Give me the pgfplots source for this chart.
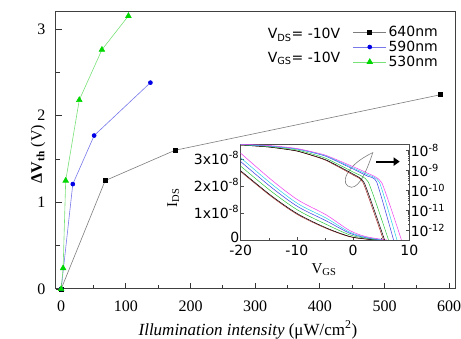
\documentclass[border=0pt]{standalone}
\usepackage{fontspec}
\setmainfont{Liberation Serif}
\setsansfont{DejaVu Sans}
\usepackage{pgfplots}
\pgfplotsset{compat=1.18}
\usetikzlibrary{arrows.meta,calc}

\definecolor{l640}{RGB}{125,125,125}
\definecolor{l590}{RGB}{120,120,235}
\definecolor{m590}{RGB}{0,0,230}
\definecolor{l530}{RGB}{120,225,120}
\definecolor{m530}{RGB}{0,215,0}
\definecolor{cbrown}{RGB}{170,40,40}
\definecolor{cgreen}{RGB}{40,200,60}
\definecolor{cblue}{RGB}{60,60,230}
\definecolor{ccyan}{RGB}{40,210,230}
\definecolor{cpink}{RGB}{240,60,240}

\newcommand{\sfs}{\sffamily\fontsize{14}{16}\selectfont}

\begin{document}
\begin{tikzpicture}[font=\fontsize{16}{19}\selectfont]
\begin{axis}[name=main, scale only axis, width=399pt, height=277pt,
  xmin=-8, xmax=609, ymin=0, ymax=3.195,
  xtick={0,100,...,600}, minor xtick={50,150,...,550},
  ytick={0,1,2,3}, minor ytick={0.5,1.5,2.5},
  tick pos=left, tick align=inside,
  major tick length=6pt, minor tick length=4pt,
  /pgf/number format/assume math mode=true,
  xticklabel style={yshift=-8pt},
  yticklabel style={xshift=-7pt},
  axis line style={line width=1pt, black!75},
  every tick/.style={black!80, line width=0.8pt},
  xlabel={\textit{Illumination intensity} (μW/cm\textsuperscript{2})},
  ylabel={{\bfseries ΔV\textsubscript{th}} (V)},
  every axis x label/.style={at={(axis description cs:0.481,-0.148)}, anchor=center, font=\fontsize{17}{20}\selectfont},
  every axis y label/.style={at={(axis description cs:-0.045,0.487)}, anchor=center, rotate=90},
  legend style={draw=none, fill=none, at={(1,1)}, anchor=north east, xshift=-15pt, yshift=-12pt,
    font=\sfs, row sep=-1pt, inner sep=0pt},
  legend cell align=left,
  legend image code/.code={\draw[mark repeat=2,mark phase=2,#1] plot coordinates {(0pt,0pt) (16.5pt,0pt) (33pt,0pt)};},
]
\addplot[l640, line width=0.6pt, mark=square*, mark size=2pt, mark options={black, fill=black}]
  coordinates {(0,0)(68,1.25)(176,1.6)(586,2.24)};
\addlegendentry{640nm}
\addplot[l590, line width=0.6pt, mark=*, mark size=2pt, mark options={m590, fill=m590}]
  coordinates {(0,0)(18,1.21)(51,1.77)(138,2.38)};
\addlegendentry{590nm}
\addplot[l530, line width=0.6pt, mark=triangle*, mark size=3.2pt, mark options={m530, fill=m530}]
  coordinates {(0,0)(3,0.24)(7,1.25)(28,2.18)(63,2.76)(104,3.15)};
\addlegendentry{530nm}
\node[anchor=west, font=\sfs] at (axis cs:314,2.93) {V\textsubscript{DS}= -10V};
\node[anchor=west, font=\sfs] at (axis cs:314,2.66) {V\textsubscript{GS}= -10V};
\end{axis}

% inset, linear axis
\begin{axis}[name=inset, at={($(main.south west)+(184.7pt,49pt)$)}, anchor=south west,
  scale only axis, width=168.6pt, height=95.7pt,
  xmin=-20, xmax=10, ymin=0, ymax=3.54e-8,
  axis background/.style={fill=white},
  scaled y ticks=false,
  xtick={-20,-10,0,10}, xticklabels={-20,-10,0,10}, minor xtick={-15,-5,5},
  ytick={0,1e-8,2e-8,3e-8},
  yticklabels={\raisebox{2.5pt}{0},1x10\textsuperscript{-8},2x10\textsuperscript{-8},3x10\textsuperscript{-8}},
  tick pos=left, tick align=inside, major tick length=3pt, minor tick length=2pt,
  ticklabel style={font=\sfs},
  yticklabel style={xshift=2pt, yshift=1pt},
  xticklabel style={yshift=-1.5pt},
  axis line style={line width=0.6pt, black!70},
  every tick/.style={black!70, line width=0.5pt},
  xlabel={V\textsubscript{GS}}, ylabel={I\textsubscript{DS}},
  every axis x label/.style={at={(axis description cs:0.494,-0.31)}, anchor=center, font=\fontsize{15}{17}\selectfont},
  every axis y label/.style={at={(axis description cs:-0.40,0.44)}, anchor=center, rotate=90, font=\fontsize{15}{17}\selectfont},
]
\addplot[cbrown, line width=0.5pt, smooth] coordinates {(-20,2.53e-8)(-14.5,1.60e-8)(-9.8,0.93e-8)(-4.8,0.43e-8)(-0.6,0.12e-8)(2.4,0.03e-8)(4,0)};
\addplot[black, line width=0.5pt, smooth] coordinates {(-20,2.56e-8)(-14.5,1.63e-8)(-9.8,0.96e-8)(-4.8,0.45e-8)(-0.6,0.13e-8)(2.4,0.035e-8)(4.2,0)};
\addplot[cgreen, line width=0.5pt, smooth] coordinates {(-20,2.73e-8)(-14.5,1.79e-8)(-9.8,1.10e-8)(-4.8,0.58e-8)(-0.6,0.19e-8)(2.4,0.06e-8)(4.6,0)};
\addplot[cblue, line width=0.5pt, smooth] coordinates {(-20,2.90e-8)(-14.5,1.94e-8)(-9.8,1.23e-8)(-4.8,0.71e-8)(-0.6,0.25e-8)(2.4,0.08e-8)(5.1,0)};
\addplot[ccyan, line width=0.5pt, smooth] coordinates {(-20,3.04e-8)(-14.5,2.07e-8)(-9.8,1.34e-8)(-4.8,0.81e-8)(-0.6,0.29e-8)(2.4,0.10e-8)(5.5,0)};
\addplot[cpink, line width=0.5pt, smooth] coordinates {(-20,3.21e-8)(-14.5,2.22e-8)(-9.8,1.48e-8)(-4.8,0.93e-8)(-0.6,0.35e-8)(2.4,0.12e-8)(6,0)};
\draw[gray, line width=0.6pt] (axis cs:3.5,3.23e-8) .. controls (axis cs:-1.5,2.75e-8) and (axis cs:-2.5,2.0e-8) .. (axis cs:-0.3,1.95e-8) .. controls (axis cs:1.2,1.95e-8) and (axis cs:2.5,2.6e-8) .. cycle;
\draw[-{Triangle[length=6pt,width=8pt]}, line width=2pt] (axis cs:4.1,2.9e-8) -- (axis cs:8.3,2.9e-8);
\end{axis}

% inset, log axis
\begin{axis}[at={($(main.south west)+(184.7pt,49pt)$)}, anchor=south west,
  scale only axis, width=168.6pt, height=95.7pt,
  xmin=-20, xmax=10, ymode=log, ymin=3.27e-13, ymax=1.995e-8,
  axis x line=none, axis y line*=right,
  ytick={1e-12,1e-11,1e-10,1e-9,1e-8},
  yticklabels={10\textsuperscript{-12},10\textsuperscript{-11},10\textsuperscript{-10},10\textsuperscript{-9},10\textsuperscript{-8}},
  tick align=inside, major tick length=3pt, minor tick length=1.5pt,
  ticklabel style={font=\sfs},
  yticklabel style={xshift=-2pt},
  axis line style={line width=0.6pt, black!70},
  every tick/.style={black!70, line width=0.5pt},
]
\addplot[cbrown, line width=0.5pt, smooth, tension=0.3] coordinates {(-20,1.84e-8)(-15,1.46e-8)(-10,9.2e-9)(-5,3.27e-9)(0,5.8e-10)(1.8,2.32e-10)(5.4,3.3e-13)};
\addplot[black, line width=0.5pt, smooth, tension=0.3] coordinates {(-20,1.84e-8)(-15,1.46e-8)(-10,9.2e-9)(-5,3.47e-9)(0,6.5e-10)(2.0,2.32e-10)(5.6,3.3e-13)};
\addplot[cgreen, line width=0.5pt, smooth, tension=0.3] coordinates {(-20,1.88e-8)(-15,1.55e-8)(-10,1.04e-8)(-5,4.12e-9)(0,8.2e-10)(2.7,2.6e-10)(6.3,3.3e-13)};
\addplot[cblue, line width=0.5pt, smooth, tension=0.3] coordinates {(-20,1.95e-8)(-15,1.64e-8)(-10,1.16e-8)(-5,5.2e-9)(0,1.16e-9)(2.5,5.2e-10)(4.2,2.6e-10)(7.2,3.3e-13)};
\addplot[ccyan, line width=0.5pt, smooth, tension=0.3] coordinates {(-20,1.95e-8)(-15,1.64e-8)(-10,1.16e-8)(-5,5.5e-9)(0,1.3e-9)(2.5,6.2e-10)(4.7,2.45e-10)(7.8,3.3e-13)};
\addplot[cpink, line width=0.5pt, smooth, tension=0.3] coordinates {(-20,2.0e-8)(-15,1.74e-8)(-10,1.23e-8)(-5,5.8e-9)(0,1.51e-9)(2.5,7.3e-10)(5.1,2.4e-10)(8.6,3.3e-13)};
\end{axis}

\pgfresetboundingbox
\path[use as bounding box] ([shift={(-56pt,-50pt)}]main.south west) rectangle ([shift={(6pt,12pt)}]main.north east);
\end{tikzpicture}
\end{document}
